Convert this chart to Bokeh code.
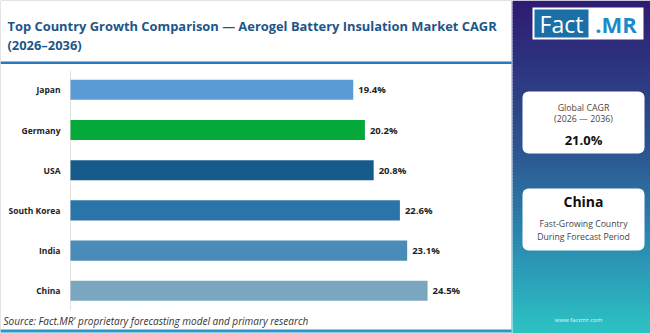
from bokeh.plotting import figure
from bokeh.models import Range1d, ColumnDataSource
from bokeh.core.properties import value
from bokeh.embed import file_html
from bokeh.resources import INLINE

# ---- data ----
countries = ["Japan", "Germany", "USA", "South Korea", "India", "China"]
cagr = [19.4, 20.2, 20.8, 22.6, 23.1, 24.5]
bar_colors = ["#5b9bd5", "#04a93a", "#165b8c", "#2a74a9", "#4a8bb7", "#7ba6c0"]
title_lines = ["Top Country Growth Comparison \u2014 Aerogel Battery Insulation Market CAGR", "(2026\u20132036)"]
global_cagr = "21.0%"
top_country = "China"
source_text = "Source: Fact.MR' proprietary forecasting model and primary research"

W, H = 650, 333
FONT = "Open Sans"
PX_PER_UNIT = 14.575
ORIGIN = 70
ROW0, ROWSTEP = 89.3, 40.2

p = figure(width=W, height=H, output_backend="svg", toolbar_location=None,
           x_range=Range1d(0, W), y_range=Range1d(H, 0), min_border=0)
p.axis.visible = False
p.grid.visible = False
p.outline_line_color = None
p.background_fill_color = "white"
p.border_fill_color = "white"

p.extra_x_ranges = {"val": Range1d(-ORIGIN / PX_PER_UNIT, (W - ORIGIN) / PX_PER_UNIT)}
p.extra_y_ranges = {"cat": Range1d((H - ROW0) / ROWSTEP, -ROW0 / ROWSTEP)}

# ---- left panel decoration ----
p.quad(left=0, right=511, top=0, bottom=333, fill_color="white", line_color="#c8c8c8", line_width=1)
p.quad(left=0, right=511, top=61, bottom=63.5, fill_color="#2a78bd", line_color=None)
p.quad(left=0, right=511, top=329, bottom=332, fill_color="#2a96c8", line_color=None)
p.segment(x0=ORIGIN, y0=70, x1=ORIGIN, y1=310, line_color="#e2e2e2", line_width=1)

# title
for i, t in enumerate(title_lines):
    p.text(x=[7], y=[25 + i * 19.5], text=[t], text_font=value(FONT), text_font_style="bold",
           text_font_size="12.9px", text_color="#1c5689", text_baseline="middle")

# ---- bars ----
idx = list(range(len(countries)))
src = ColumnDataSource(dict(y=idx, v=cagr, c=bar_colors, name=countries,
                            lab=[f"{v:.1f}%" for v in cagr]))
p.hbar(y="y", left=0, right="v", height=0.5, fill_color="c", line_color=None,
       source=src, x_range_name="val", y_range_name="cat")
p.text(x=0, y="y", text="name", source=src, x_range_name="val", y_range_name="cat",
       x_offset=-10, text_align="right", text_baseline="middle", text_font=value(FONT),
       text_font_style="bold", text_font_size="8.5px", text_color="#222222")
p.text(x="v", y="y", text="lab", source=src, x_range_name="val", y_range_name="cat",
       x_offset=5, text_align="left", text_baseline="middle", text_font=value(FONT),
       text_font_style="bold", text_font_size="9.5px", text_color="#222222")

# source
p.text(x=[3], y=[320], text=[source_text], text_font=value(FONT), text_font_style="italic",
       text_font_size="10px", text_color="#333333", text_baseline="middle")

# ---- right panel gradient ----
def hex2rgb(h):
    h = h.lstrip("#")
    return tuple(int(h[i:i + 2], 16) for i in (0, 2, 4))

stops = [(0.0, "#2e1b72"), (0.45, "#2c5590"), (0.75, "#2b8fb2"), (1.0, "#2cc3c4")]
def grad(t):
    for (t0, c0), (t1, c1) in zip(stops, stops[1:]):
        if t <= t1:
            f = (t - t0) / (t1 - t0)
            a, b = hex2rgb(c0), hex2rgb(c1)
            return "#%02x%02x%02x" % tuple(int(round(a[k] + (b[k] - a[k]) * f)) for k in range(3))
    return stops[-1][1]

n = 111
step = H / n
p.quad(left=[512] * n, right=[W] * n, top=[i * step for i in range(n)],
       bottom=[(i + 1) * step + 0.5 for i in range(n)],
       fill_color=[grad((i + 0.5) / n) for i in range(n)], line_color=None)

# logo
p.quad(left=532, right=643, top=7, bottom=39, fill_color="white", line_color=None)
p.quad(left=534, right=588, top=9, bottom=37, fill_color="#1b6fa7", line_color=None)
p.text(x=[561], y=[23.5], text=["Fact"], text_font=value(FONT), text_font_size="23px",
       text_color="white", text_align="center", text_baseline="middle")
p.text(x=[615.5], y=[23.5], text=[".MR"], text_font=value(FONT), text_font_size="22px",
       text_font_style="bold", text_color="#1b8cc8", text_align="center", text_baseline="middle")

# cards
p.quad(left=522, right=644, top=91, bottom=153, fill_color="white", line_color=None, border_radius=6)
p.quad(left=522, right=644, top=188, bottom=250, fill_color="white", line_color=None, border_radius=6)
cx = 583
p.text(x=[cx, cx], y=[107, 118.5], text=["Global CAGR", "(2026 \u2014 2036)"], text_font=value(FONT),
       text_font_size="8.8px", text_color="#444444", text_align="center", text_baseline="middle")
p.text(x=[cx], y=[139], text=[global_cagr], text_font=value(FONT), text_font_style="bold",
       text_font_size="13px", text_color="#111111", text_align="center", text_baseline="middle")
p.text(x=[cx], y=[201], text=[top_country], text_font=value(FONT), text_font_style="bold",
       text_font_size="14px", text_color="#111111", text_align="center", text_baseline="middle")
p.text(x=[cx, cx], y=[223, 236.5], text=["Fast-Growing Country", "During Forecast Period"],
       text_font=value(FONT), text_font_size="8.7px", text_color="#444444", text_align="center",
       text_baseline="middle")
p.text(x=[578], y=[319], text=["www.factmr.com"], text_font=value(FONT), text_font_size="6px",
       text_color="#e8f4f8", text_align="center", text_baseline="middle")

open("out.html", "w").write(file_html(p, INLINE))
